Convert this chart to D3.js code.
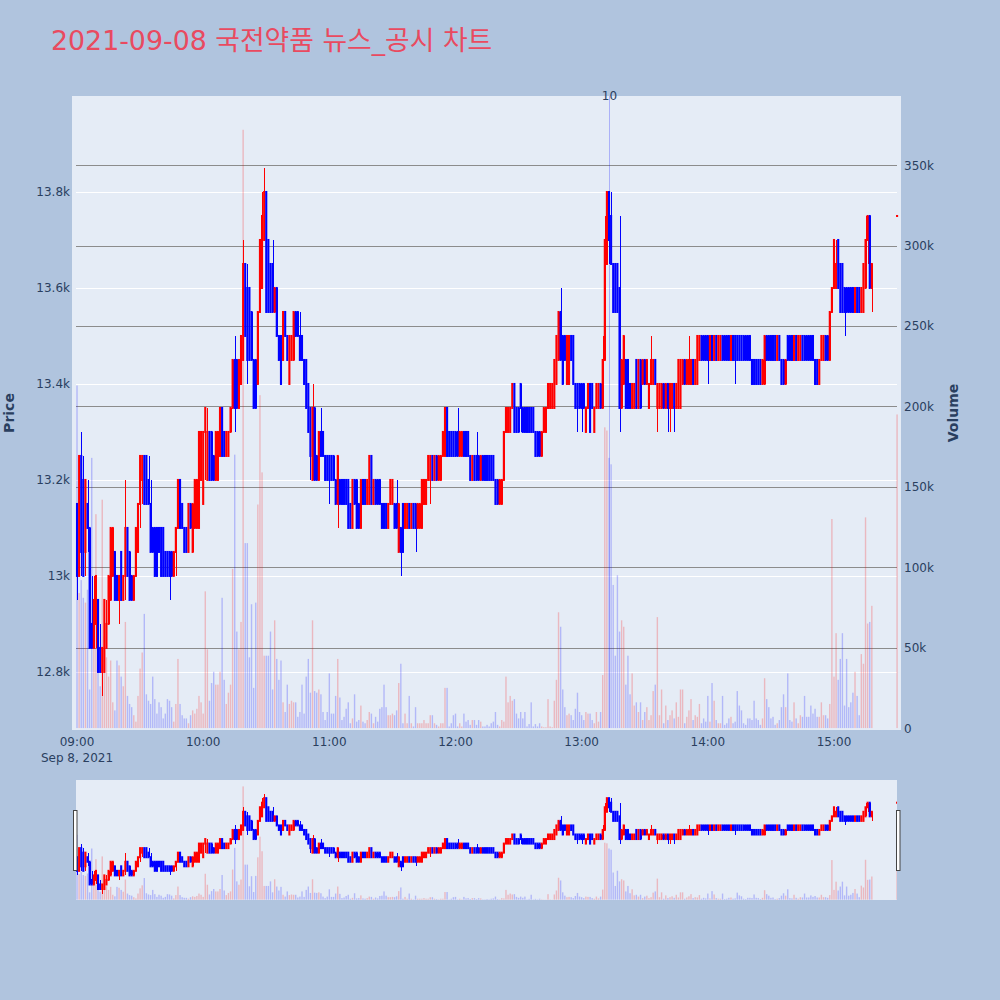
<!DOCTYPE html>
<html><head><meta charset="utf-8">
<script src="https://cdn.jsdelivr.net/npm/d3@7"></script>
<style>body{margin:0;background:#B0C4DE;}svg{display:block}</style>
</head><body>
<svg id="c" width="1000" height="1000"></svg>
<script>
// ---- data (one-minute candles 09:00..15:18, plus closing auction 15:30) ----
const times = d3.range(0, 379).map(i => { const t = 540 + i; return String(Math.floor(t/60)).padStart(2,'0') + ':' + String(t%60).padStart(2,'0'); }).concat(['15:30']);
const opens = [
13150,13000,13250,13200,13050,13150,13100,12900,12850,12900,
12950,12850,12800,12800,12850,12900,12950,13000,13050,13000,
12950,13050,12950,13000,13100,13050,13000,12950,13000,13050,
13150,13200,13250,13250,13200,13150,13100,13100,13100,13100,
13100,13100,13050,13050,13050,13050,13000,13050,13100,13200,
13150,13100,13100,13050,13150,13050,13100,13100,13100,13200,
13150,13300,13200,13300,13300,13250,13200,13200,13250,13350,
13300,13250,13250,13300,13350,13450,13450,13350,13400,13450,
13650,13600,13600,13550,13450,13450,13400,13550,13600,13700,
13800,13700,13650,13650,13550,13600,13500,13500,13450,13550,
13500,13400,13450,13450,13550,13550,13500,13500,13450,13450,
13400,13350,13200,13350,13250,13200,13300,13300,13250,13250,
13250,13250,13250,13200,13150,13200,13200,13200,13200,13200,
13150,13100,13200,13200,13150,13100,13200,13200,13150,13150,
13250,13150,13200,13200,13200,13150,13150,13150,13100,13150,
13150,13150,13150,13050,13100,13150,13100,13100,13150,13100,
13150,13150,13100,13100,13100,13150,13150,13200,13200,13250,
13200,13250,13200,13200,13250,13250,13350,13300,13300,13300,
13300,13300,13250,13250,13300,13300,13300,13250,13200,13250,
13250,13250,13200,13250,13250,13250,13250,13250,13250,13200,
13200,13150,13150,13200,13300,13300,13300,13350,13400,13350,
13350,13400,13350,13350,13350,13350,13350,13350,13300,13300,
13300,13250,13300,13300,13350,13350,13350,13350,13400,13450,
13550,13500,13500,13400,13400,13500,13500,13400,13400,13400,
13400,13400,13300,13350,13400,13400,13300,13350,13350,13400,
13350,13450,13650,13800,13750,13650,13650,13650,13600,13350,
13400,13450,13450,13400,13350,13350,13450,13350,13450,13400,
13450,13400,13350,13400,13400,13450,13350,13350,13350,13400,
13350,13400,13350,13350,13400,13350,13350,13350,13400,13450,
13400,13400,13400,13450,13400,13400,13450,13500,13500,13500,
13500,13450,13500,13450,13500,13450,13450,13500,13500,13500,
13500,13450,13500,13500,13500,13500,13500,13500,13500,13500,
13500,13450,13450,13450,13450,13450,13400,13400,13500,13500,
13500,13500,13500,13450,13500,13450,13450,13400,13500,13500,
13500,13450,13500,13450,13450,13500,13500,13500,13500,13500,
13500,13450,13450,13400,13450,13450,13500,13500,13450,13550,
13600,13600,13700,13650,13650,13600,13600,13600,13600,13600,
13550,13600,13600,13550,13550,13600,13700,13750,13600,13750];
const highs = [
13150,13250,13300,13250,13200,13200,13100,13000,13000,13000,
12950,12900,12850,12950,12950,13000,13100,13100,13050,13000,
13000,13050,13000,13200,13100,13050,13000,13000,13100,13150,
13250,13250,13250,13250,13250,13200,13100,13100,13100,13100,
13100,13100,13050,13050,13050,13050,13050,13100,13200,13200,
13150,13100,13100,13150,13150,13150,13200,13200,13300,13300,
13300,13350,13350,13300,13300,13250,13300,13300,13350,13350,
13300,13300,13300,13350,13450,13500,13450,13450,13500,13700,
13650,13650,13600,13550,13450,13450,13550,13700,13800,13850,
13800,13700,13650,13700,13600,13600,13500,13500,13550,13550,
13500,13500,13500,13550,13550,13550,13550,13500,13450,13450,
13400,13350,13400,13350,13250,13300,13350,13300,13250,13250,
13250,13250,13250,13200,13250,13200,13200,13200,13200,13200,
13150,13200,13200,13200,13150,13200,13200,13200,13200,13250,
13250,13200,13200,13200,13200,13150,13150,13150,13150,13200,
13200,13150,13200,13150,13100,13150,13150,13150,13150,13150,
13150,13150,13150,13150,13200,13200,13200,13250,13250,13250,
13250,13250,13250,13250,13300,13350,13350,13300,13300,13300,
13300,13350,13300,13300,13300,13300,13300,13250,13250,13250,
13300,13250,13250,13250,13250,13250,13250,13250,13250,13200,
13200,13200,13200,13300,13350,13350,13350,13400,13400,13350,
13350,13400,13350,13350,13350,13350,13350,13350,13300,13300,
13300,13300,13350,13350,13400,13400,13400,13450,13500,13550,
13600,13500,13500,13500,13500,13500,13500,13400,13400,13400,
13400,13400,13350,13400,13400,13400,13350,13400,13400,13400,
13500,13750,13800,13800,13800,13650,13650,13650,13750,13450,
13500,13450,13450,13400,13400,13400,13450,13450,13450,13450,
13450,13450,13400,13500,13450,13450,13400,13400,13400,13400,
13400,13400,13400,13400,13400,13400,13450,13450,13450,13450,
13450,13500,13450,13450,13450,13500,13500,13500,13500,13500,
13500,13500,13500,13500,13500,13500,13500,13500,13500,13500,
13500,13500,13500,13500,13500,13500,13500,13500,13500,13500,
13500,13450,13450,13450,13450,13450,13450,13500,13500,13500,
13500,13500,13500,13500,13500,13450,13450,13450,13500,13500,
13500,13500,13500,13500,13500,13500,13500,13500,13500,13500,
13500,13450,13450,13450,13500,13500,13500,13500,13550,13600,
13700,13700,13700,13650,13650,13600,13600,13600,13600,13600,
13600,13600,13600,13600,13650,13750,13750,13750,13650,13750];
const lows = [
12950,13000,13000,13000,13000,13050,12850,12850,12850,12850,
12800,12800,12750,12800,12850,12900,12950,13000,12950,12950,
12900,12950,12950,12950,13000,12950,12950,12950,13000,13050,
13100,13150,13150,13150,13150,13050,13050,13000,13000,13050,
13000,13000,13000,13000,12950,13000,13000,13000,13100,13100,
13100,13050,13050,13050,13100,13050,13100,13100,13100,13200,
13150,13200,13200,13200,13200,13200,13200,13200,13250,13250,
13250,13250,13250,13300,13350,13300,13350,13350,13400,13450,
13500,13400,13450,13450,13350,13350,13400,13550,13600,13700,
13550,13550,13550,13550,13550,13500,13450,13400,13450,13500,
13450,13400,13450,13450,13500,13500,13450,13450,13400,13350,
13300,13200,13200,13200,13200,13200,13250,13250,13200,13200,
13150,13200,13200,13150,13100,13150,13150,13150,13150,13100,
13100,13100,13150,13100,13100,13100,13150,13150,13150,13150,
13150,13150,13150,13150,13150,13100,13100,13100,13100,13150,
13150,13100,13100,13050,13000,13050,13100,13100,13100,13100,
13100,13050,13100,13100,13100,13150,13150,13200,13150,13200,
13200,13200,13200,13200,13250,13250,13250,13250,13250,13250,
13250,13250,13250,13250,13250,13250,13250,13200,13200,13200,
13200,13200,13200,13200,13200,13200,13200,13200,13200,13150,
13150,13150,13150,13200,13300,13300,13300,13350,13300,13300,
13300,13300,13300,13300,13300,13300,13300,13300,13250,13250,
13250,13250,13300,13300,13350,13350,13350,13350,13400,13450,
13450,13400,13450,13400,13400,13450,13400,13350,13300,13350,
13300,13350,13300,13350,13300,13350,13300,13350,13350,13350,
13350,13450,13650,13650,13650,13550,13550,13550,13300,13350,
13400,13350,13350,13350,13350,13350,13350,13350,13350,13400,
13400,13400,13350,13400,13400,13400,13300,13350,13350,13350,
13350,13300,13300,13350,13300,13350,13350,13350,13400,13400,
13400,13400,13400,13400,13400,13400,13450,13450,13450,13450,
13400,13450,13450,13450,13450,13450,13450,13450,13450,13450,
13450,13450,13450,13400,13450,13450,13450,13450,13450,13450,
13450,13400,13400,13400,13400,13400,13400,13400,13450,13450,
13450,13450,13450,13450,13450,13400,13400,13400,13450,13450,
13450,13450,13450,13450,13450,13450,13450,13450,13450,13450,
13450,13400,13400,13400,13450,13450,13450,13450,13450,13550,
13600,13600,13600,13550,13550,13500,13550,13550,13550,13550,
13550,13550,13550,13550,13550,13600,13650,13600,13550,13750];
const closes = [
13000,13250,13050,13000,13200,13100,12850,12850,12950,13000,
12800,12800,12850,12950,12900,13000,13100,13100,12950,12950,
13000,12950,13000,13100,13000,12950,12950,13000,13100,13150,
13250,13250,13150,13150,13150,13050,13050,13000,13000,13050,
13000,13000,13000,13000,13000,13000,13050,13100,13200,13100,
13100,13050,13050,13150,13100,13150,13200,13200,13300,13300,
13300,13350,13300,13200,13200,13200,13300,13300,13350,13250,
13250,13300,13300,13350,13450,13350,13350,13450,13500,13650,
13500,13450,13450,13450,13350,13350,13550,13700,13750,13800,
13550,13550,13550,13550,13600,13500,13450,13400,13550,13500,
13450,13500,13500,13550,13500,13500,13450,13450,13400,13350,
13300,13250,13350,13200,13200,13300,13250,13250,13200,13200,
13200,13200,13200,13150,13250,13150,13150,13150,13150,13100,
13100,13200,13150,13100,13100,13200,13150,13150,13200,13250,
13150,13200,13150,13150,13150,13100,13100,13100,13150,13200,
13200,13100,13100,13150,13050,13050,13150,13150,13100,13150,
13100,13100,13150,13150,13200,13200,13200,13250,13250,13200,
13250,13200,13250,13250,13300,13350,13250,13250,13250,13250,
13250,13250,13300,13300,13250,13250,13250,13200,13250,13200,
13200,13200,13250,13200,13200,13200,13200,13200,13200,13150,
13150,13200,13200,13300,13350,13350,13350,13400,13300,13300,
13300,13350,13300,13300,13300,13300,13300,13300,13250,13250,
13250,13300,13350,13350,13400,13400,13400,13450,13500,13550,
13450,13400,13450,13500,13500,13450,13400,13350,13350,13350,
13350,13350,13350,13400,13300,13350,13350,13400,13400,13350,
13450,13700,13800,13700,13650,13550,13550,13550,13350,13450,
13500,13350,13350,13350,13400,13400,13350,13450,13350,13450,
13400,13450,13400,13450,13450,13400,13400,13400,13400,13350,
13400,13350,13400,13400,13350,13400,13450,13450,13450,13400,
13450,13450,13450,13400,13450,13500,13500,13450,13450,13450,
13450,13500,13450,13500,13450,13500,13500,13450,13450,13450,
13450,13500,13450,13450,13450,13450,13450,13450,13450,13450,
13450,13400,13400,13400,13400,13400,13450,13500,13450,13450,
13450,13450,13450,13500,13450,13400,13400,13450,13450,13450,
13450,13500,13450,13500,13500,13450,13450,13450,13450,13450,
13450,13400,13400,13450,13500,13500,13450,13450,13550,13600,
13700,13650,13600,13550,13550,13550,13550,13550,13550,13550,
13600,13550,13550,13600,13650,13700,13750,13600,13650,13750];
const volumes = [
213000,84000,92000,81000,78000,86000,24000,168000,57000,133000,
56000,26000,142000,57000,44000,32000,42000,16000,11000,42000,
39000,32000,26000,66000,20000,15000,13000,8000,4000,20000,
37000,47000,71000,21000,17000,15000,32000,18000,9000,16000,
13000,6000,9000,18000,17000,13000,4000,15000,43000,15000,
8000,6000,6000,3000,8000,11000,9000,12000,20000,16000,
9000,85000,49000,17000,28000,35000,27000,27000,35000,81000,
30000,15000,22000,27000,99000,170000,60000,49000,66000,372000,
115000,115000,44000,77000,25000,78000,139000,207000,159000,45000,
45000,45000,60000,24000,67000,43000,30000,42000,16000,10000,
27000,15000,17000,16000,16000,7000,10000,27000,9000,32000,
43000,22000,67000,23000,22000,24000,21000,10000,5000,10000,
34000,9000,9000,20000,43000,19000,5000,7000,12000,16000,
3000,6000,21000,4000,5000,14000,4000,3000,5000,10000,
9000,3000,7000,4000,12000,13000,27000,13000,8000,8000,
9000,8000,11000,28000,40000,3000,9000,3000,20000,3000,
1000,13000,3000,3000,3000,5000,3000,3000,8000,8000,
3000,2000,1000,3000,3000,25000,25000,1000,3000,8000,
9000,1000,3000,1000,9000,4000,5000,2000,5000,5000,
2000,5000,4000,1000,1000,2000,1000,3000,4000,10000,
2000,1000,5000,4000,32000,16000,20000,17000,18000,9000,
6000,10000,6000,10000,1000,2500,16000,1000,2500,1000,
3000,1000,500,500,18000,1000,500,17000,30000,72000,
63000,24000,13000,8000,9000,8000,5000,12000,22000,10000,
8000,5000,10000,9000,9000,5000,3000,10000,4000,10000,
33000,187000,185000,168000,164000,89000,45000,95000,60000,67000,
63000,27000,45000,21000,34000,14000,16000,10000,16000,5000,
10000,13000,5000,8000,23000,27000,69000,8000,24000,3000,
14000,5000,8000,11000,6000,16000,7000,24000,24000,3000,
7000,11000,18000,5000,8000,7000,15000,3000,6000,4000,
20000,4000,28000,17000,5000,3000,3000,20000,2000,3000,
6000,7000,3000,4000,23000,14000,11000,3000,2000,6000,
6000,5000,17000,6000,5000,2000,6000,31000,18000,13000,
6000,7000,2000,3000,5000,13000,21000,13000,34000,5000,
4000,16000,6000,3000,8000,7000,20000,7000,7000,14000,
9000,12000,7000,7000,16000,8000,8000,6000,15000,130000,
32000,59000,30000,43000,59000,14000,43000,13000,16000,22000,
35000,20000,8000,46000,40000,131000,65000,66000,76000,195000];
const priceTicks = [12800, 13000, 13200, 13400, 13600, 13800];
const priceTickLabels = ['12.8k', '13k', '13.2k', '13.4k', '13.6k', '13.8k'];
const volTicks = [0, 50000, 100000, 150000, 200000, 250000, 300000, 350000];
const volTickLabels = ['0', '50k', '100k', '150k', '200k', '250k', '300k', '350k'];
const timeTicks = ['09:00', '10:00', '11:00', '12:00', '13:00', '14:00', '15:00'];
const newsTimes = ['13:13'];
const newsLabels = ['10'];
const titleText = '2021-09-08 국전약품 뉴스_공시 차트';

// ---- drawing ----
const svg = d3.select('#c');
const FONT = '"DejaVu Sans", "Noto Sans CJK KR", sans-serif';
const TXT = '#2a3f5f';
const toDate = s => { const [h, m] = s.split(':').map(Number); return new Date(2021, 8, 8, h, m); };
const T = times.map(toDate);

const main = {x0: 72, x1: 901, y0: 96, y1: 730};
const slider = {x0: 76, x1: 897, y0: 780, y1: 900};

const x = d3.scaleTime().domain([new Date(2021, 8, 8, 8, 57, 37), new Date(2021, 8, 8, 15, 31, 52)]).range([main.x0, main.x1]);
const yP = d3.scaleLinear().domain([12679, 14000]).range([main.y1, main.y0]);
const yV = d3.scaleLinear().domain([-1200, 393000]).range([main.y1, main.y0]);
const yPs = d3.scaleLinear().domain([12679, 14000]).range([slider.y1, slider.y0]);
const yVs = d3.scaleLinear().domain([-1200, 393000]).range([slider.y1, slider.y0]);

const defs = svg.append('defs');
defs.append('clipPath').attr('id', 'cm').append('rect').attr('x', main.x0).attr('y', main.y0).attr('width', main.x1 - main.x0).attr('height', main.y1 - main.y0);
defs.append('clipPath').attr('id', 'cs').append('rect').attr('x', slider.x0).attr('y', slider.y0).attr('width', slider.x1 - slider.x0).attr('height', slider.y1 - slider.y0);

svg.append('rect').attr('width', 1000).attr('height', 1000).attr('fill', '#B0C4DE');
svg.append('rect').attr('x', main.x0).attr('y', main.y0).attr('width', main.x1 - main.x0).attr('height', main.y1 - main.y0).attr('fill', '#E5ECF6');

// grid
const grid = svg.append('g');
grid.selectAll('.pg').data(priceTicks).join('line')
  .attr('x1', 76).attr('x2', 897).attr('y1', d => Math.round(yP(d)) + 0.5).attr('y2', d => Math.round(yP(d)) + 0.5)
  .attr('stroke', '#ffffff').attr('stroke-width', 1);
grid.selectAll('.vg').data(volTicks.slice(1)).join('line')
  .attr('x1', 76).attr('x2', 897).attr('y1', d => Math.round(yV(d)) + 0.5).attr('y2', d => Math.round(yV(d)) + 0.5)
  .attr('stroke', '#8c8c8c').attr('stroke-width', 1);

const isUp = i => closes[i] > opens[i] || (closes[i] === opens[i] && i > 0 && closes[i] >= closes[i - 1]);
const idx = d3.range(T.length);
const px = i => Math.round(x(T[i])) + 0.5;

function drawSet(g, ySc, yVol, bodyW, volW) {
  const cg = g.append('g');
  cg.selectAll('line').data(idx).join('line')
    .attr('x1', px).attr('x2', px)
    .attr('y1', i => ySc(highs[i])).attr('y2', i => ySc(lows[i]))
    .attr('stroke', i => isUp(i) ? '#ff0000' : '#0000ff').attr('stroke-width', 1)
    .attr('shape-rendering', 'crispEdges');
  cg.selectAll('rect').data(idx).join('rect')
    .attr('x', i => x(T[i]) - bodyW / 2).attr('width', bodyW)
    .attr('y', i => ySc(Math.max(opens[i], closes[i])) - 1)
    .attr('height', i => Math.abs(ySc(opens[i]) - ySc(closes[i])) + 2)
    .attr('fill', i => isUp(i) ? '#ff0000' : '#0000ff');
  g.append('g').selectAll('rect').data(idx).join('rect')
    .attr('x', i => x(T[i]) - volW / 2).attr('width', volW)
    .attr('y', i => yVol(volumes[i])).attr('height', i => yVol(0) - yVol(volumes[i]))
    .attr('fill', i => isUp(i) ? 'rgba(255,0,0,0.22)' : 'rgba(0,0,255,0.22)');
}

const gm = svg.append('g').attr('clip-path', 'url(#cm)');
drawSet(gm, yP, yV, 2.1, 1.4);

// news marker
newsTimes.forEach((t, k) => {
  const nx = Math.round(x(toDate(t))) + 0.5;
  gm.append('line').attr('x1', nx).attr('x2', nx).attr('y1', main.y0).attr('y2', yV(0))
    .attr('stroke', 'rgba(0,0,255,0.25)').attr('stroke-width', 1);
  svg.append('text').attr('x', nx).attr('y', main.y0 + 4).attr('text-anchor', 'middle')
    .attr('font-family', FONT).attr('font-size', 12).attr('fill', TXT).text(newsLabels[k]);
});

// axes labels
svg.selectAll('.pl').data(priceTicks).join('text')
  .attr('x', 70).attr('y', d => yP(d) + 4.5).attr('text-anchor', 'end')
  .attr('font-family', FONT).attr('font-size', 12).attr('fill', TXT)
  .text((d, i) => priceTickLabels[i]);
svg.selectAll('.vl').data(volTicks).join('text')
  .attr('x', 904).attr('y', d => yV(d) + 4.5).attr('text-anchor', 'start')
  .attr('font-family', FONT).attr('font-size', 12).attr('fill', TXT)
  .text((d, i) => volTickLabels[i]);
svg.selectAll('.tl').data(timeTicks).join('text')
  .attr('x', d => x(toDate(d))).attr('y', 746).attr('text-anchor', 'middle')
  .attr('font-family', FONT).attr('font-size', 12).attr('fill', TXT).text(d => d);
svg.append('text').attr('x', x(toDate(timeTicks[0]))).attr('y', 762).attr('text-anchor', 'middle')
  .attr('font-family', FONT).attr('font-size', 12).attr('fill', TXT).text('Sep 8, 2021');

svg.append('text').attr('transform', 'translate(14,413) rotate(-90)').attr('text-anchor', 'middle')
  .attr('font-family', FONT).attr('font-size', 14).attr('font-weight', 'bold').attr('fill', TXT).text('Price');
svg.append('text').attr('transform', 'translate(958,413) rotate(-90)').attr('text-anchor', 'middle')
  .attr('font-family', FONT).attr('font-size', 14).attr('font-weight', 'bold').attr('fill', TXT).text('Volume');

svg.append('text').attr('x', 51).attr('y', 50)
  .attr('font-family', FONT).attr('font-size', 26.8).attr('fill', '#e94a60').text(titleText);

// range slider
svg.append('rect').attr('x', slider.x0).attr('y', slider.y0).attr('width', slider.x1 - slider.x0).attr('height', slider.y1 - slider.y0).attr('fill', '#E5ECF6');
const gs = svg.append('g').attr('clip-path', 'url(#cs)');
drawSet(gs, yPs, yVs, 2.1, 1.4);
[73.5, 896.5].forEach(hx => {
  svg.append('rect').attr('x', hx).attr('y', 810.5).attr('width', 3.5).attr('height', 60)
    .attr('fill', '#ffffff').attr('stroke', '#444').attr('stroke-width', 1);
});
</script>
</body></html>
